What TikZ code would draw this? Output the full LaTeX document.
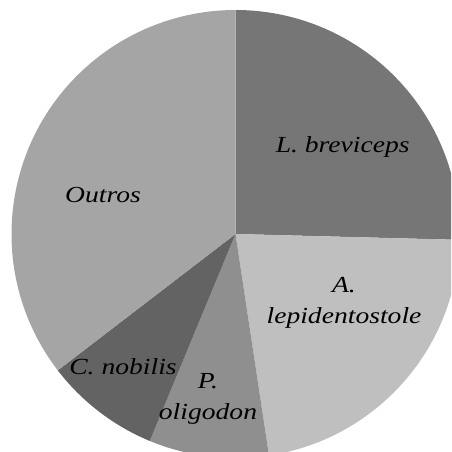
\documentclass[tikz,border=0pt]{standalone}
\usepackage{fontspec}
\setmainfont{Liberation Serif}[FakeStretch=1.2]
\definecolor{brevicepsgray}{RGB}{118,118,118}
\definecolor{lepidgray}{RGB}{191,191,191}
\definecolor{oligogray}{RGB}{143,143,143}
\definecolor{nobilisgray}{RGB}{99,99,99}
\definecolor{outrosgray}{RGB}{165,165,165}
\tikzset{
  slicelabel/.style={font=\itshape\fontsize{23}{31}\selectfont, align=center, text=black, inner sep=0pt}
}
\begin{document}
\begin{tikzpicture}[x=1pt,y=1pt]
    \useasboundingbox (0,0) rectangle (451,-452);
    \clip (0,0) rectangle (451,-452);
    \coordinate (c) at (235.5,-234);
    % slices, clockwise from the top
    \fill[brevicepsgray] (c) -- ++(90:224) arc[start angle=90, end angle=-1.5, radius=224] -- cycle;
    \fill[lepidgray] (c) -- ++(-1.5:224) arc[start angle=-1.5, end angle=-81.4, radius=224] -- cycle;
    \fill[oligogray] (c) -- ++(-81.4:224) arc[start angle=-81.4, end angle=-112.5, radius=224] -- cycle;
    \fill[nobilisgray] (c) -- ++(-112.5:224) arc[start angle=-112.5, end angle=-142.5, radius=224] -- cycle;
    \fill[outrosgray] (c) -- ++(-142.5:224) arc[start angle=217.5, end angle=90, radius=224] -- cycle;
    % labels
    \node[slicelabel] (brev) at (342.7,-146.7) {L. breviceps};
    \node[slicelabel] (lepid) at (344,-303) {A.\\lepidentostole};
    \node[slicelabel] (oligo) at (208,-399) {P.\\oligodon};
    \node[slicelabel] (nobil) at (123,-367) {C. nobilis};
    \node[slicelabel] (outros) at (103,-195) {Outros};
\end{tikzpicture}
\end{document}
